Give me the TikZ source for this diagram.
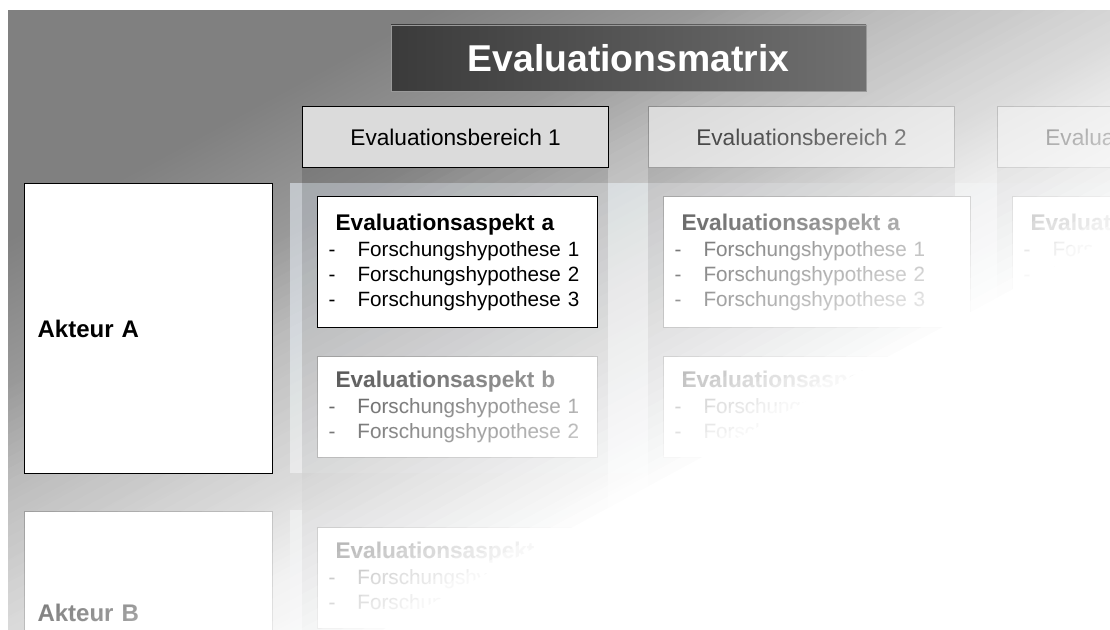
\documentclass[tikz,border=0pt]{standalone}
\usepackage{fontspec}
\setmainfont{Liberation Sans}

\definecolor{rowpanel}{RGB}{225,232,240}

\newcommand{\hypo}[1]{\hspace*{8.25pt}\makebox[21.75pt][l]{-}Forschungshypothese #1}
\newcommand{\asptitle}[1]{\hspace*{13.5pt}{\fontsize{17}{19.5}\selectfont\bfseries Evaluationsaspekt #1}\\[0.75pt]}

\tikzset{%
  titlebox/.style={rectangle, left color=black!77, right color=black!56, draw=black!40,
    text=white, font=\fontsize{28}{32}\selectfont\bfseries,
    minimum width=356.25pt, minimum height=49.5pt, inner sep=0pt},
  bereich/.style={rectangle, draw=black, line width=0.9pt, fill=black!14, anchor=north west,
    minimum width=229.5pt, minimum height=45.75pt, inner sep=0pt,
    font=\fontsize{17}{20}\selectfont},
  akteur/.style={rectangle, draw=black, line width=0.9pt, fill=white, anchor=north west,
    text width=166.5pt, inner xsep=9.75pt, inner ysep=0pt, align=left,
    minimum height=217.5pt, font=\fontsize{18}{21}\selectfont\bfseries},
  aspekt/.style={rectangle, draw=black, line width=0.9pt, fill=white, anchor=north west,
    text width=210pt, inner sep=0pt, align=left, minimum height=98.25pt,
    font=\fontsize{15.5}{18.75}\selectfont},
  wide/.style={text width=230.25pt},
  short/.style={minimum height=75.75pt},
  dimmed/.style={draw=black!52, line width=0.75pt},
  colband/.style={black, opacity=0.14},
  panel/.style={rowpanel, opacity=0.6}
}

\begin{document}
\begin{tikzpicture}[x=0.75pt,y=-0.75pt]
  \useasboundingbox (0,0) rectangle (1110,630);
  \clip (0,0) rectangle (1110,630);
  \fill[white] (0,0) rectangle (1110,630);
  \begin{scope}
    \clip (8,11) rectangle (1110,630);
    \begin{scope}[transform canvas={shift={(555,315)}, rotate=-61.6}]
      \fill[black!10] (-900,-900) rectangle (900,900);
      \fill[black!50] (-900,-900) rectangle (-329,900);
      \shade[left color=black!50, right color=black!10] (-330,-900) rectangle (191,900);
    \end{scope}
  \end{scope}

  % rows and columns
  \fill[panel] (290,183) rectangle (1110,473);
  \fill[panel] (290,510) rectangle (1110,630);
  \fill[colband] (302,106) rectangle (608,630);
  \fill[colband] (648,106) rectangle (955,630);
  \fill[colband] (997,106) rectangle (1110,630);

  % faded part of the matrix
  \node[bereich, dimmed] (ber2) at (648,106) {Evaluationsbereich 2};
  \node[bereich, dimmed] (ber3) at (997,106) {Evaluationsbereich 3};
  \node[akteur, dimmed, minimum height=151.5pt] (aktB) at (24,511) {Akteur B};
  \node[aspekt, dimmed, short] (aspB1) at (317,356) {%
    \asptitle{b}
    \hypo{1}\\
    \hypo{2}
  };
  \node[aspekt, dimmed, wide] (aspA2) at (663,196) {%
    \asptitle{a}
    \hypo{1}\\
    \hypo{2}\\
    \hypo{3}
  };
  \node[aspekt, dimmed, wide, short] (aspB2) at (663,356) {%
    \asptitle{b}
    \hypo{1}\\
    \hypo{2}
  };
  \node[aspekt, dimmed, wide] (aspA3) at (1012,196) {%
    \asptitle{a}
    \hypo{1}\\
    \hypo{2}\\
    \hypo{3}
  };
  \node[aspekt, dimmed, short] (aspRB) at (317,527) {%
    \asptitle{a}
    \hypo{1}\\
    \hypo{2}
  };

  % white wash towards the lower right
  \begin{scope}[shift={(555,315)}, rotate=-61.6]
    \foreach \i in {0,...,39}{
      \pgfmathsetmacro{\washop}{1/(40-\i)}
      \fill[white, opacity=\washop] ({-195+10*\i},-900) rectangle (900,900);
    }
  \end{scope}

  % highlighted cell
  \node[titlebox] (title) at (628.5,58) {Evaluationsmatrix};
  \node[bereich] (ber1) at (302,106) {Evaluationsbereich 1};
  \node[akteur] (aktA) at (24,183) {Akteur A};
  \node[aspekt] (aspA1) at (317,196) {%
    \asptitle{a}
    \hypo{1}\\
    \hypo{2}\\
    \hypo{3}
  };
\end{tikzpicture}
\end{document}
